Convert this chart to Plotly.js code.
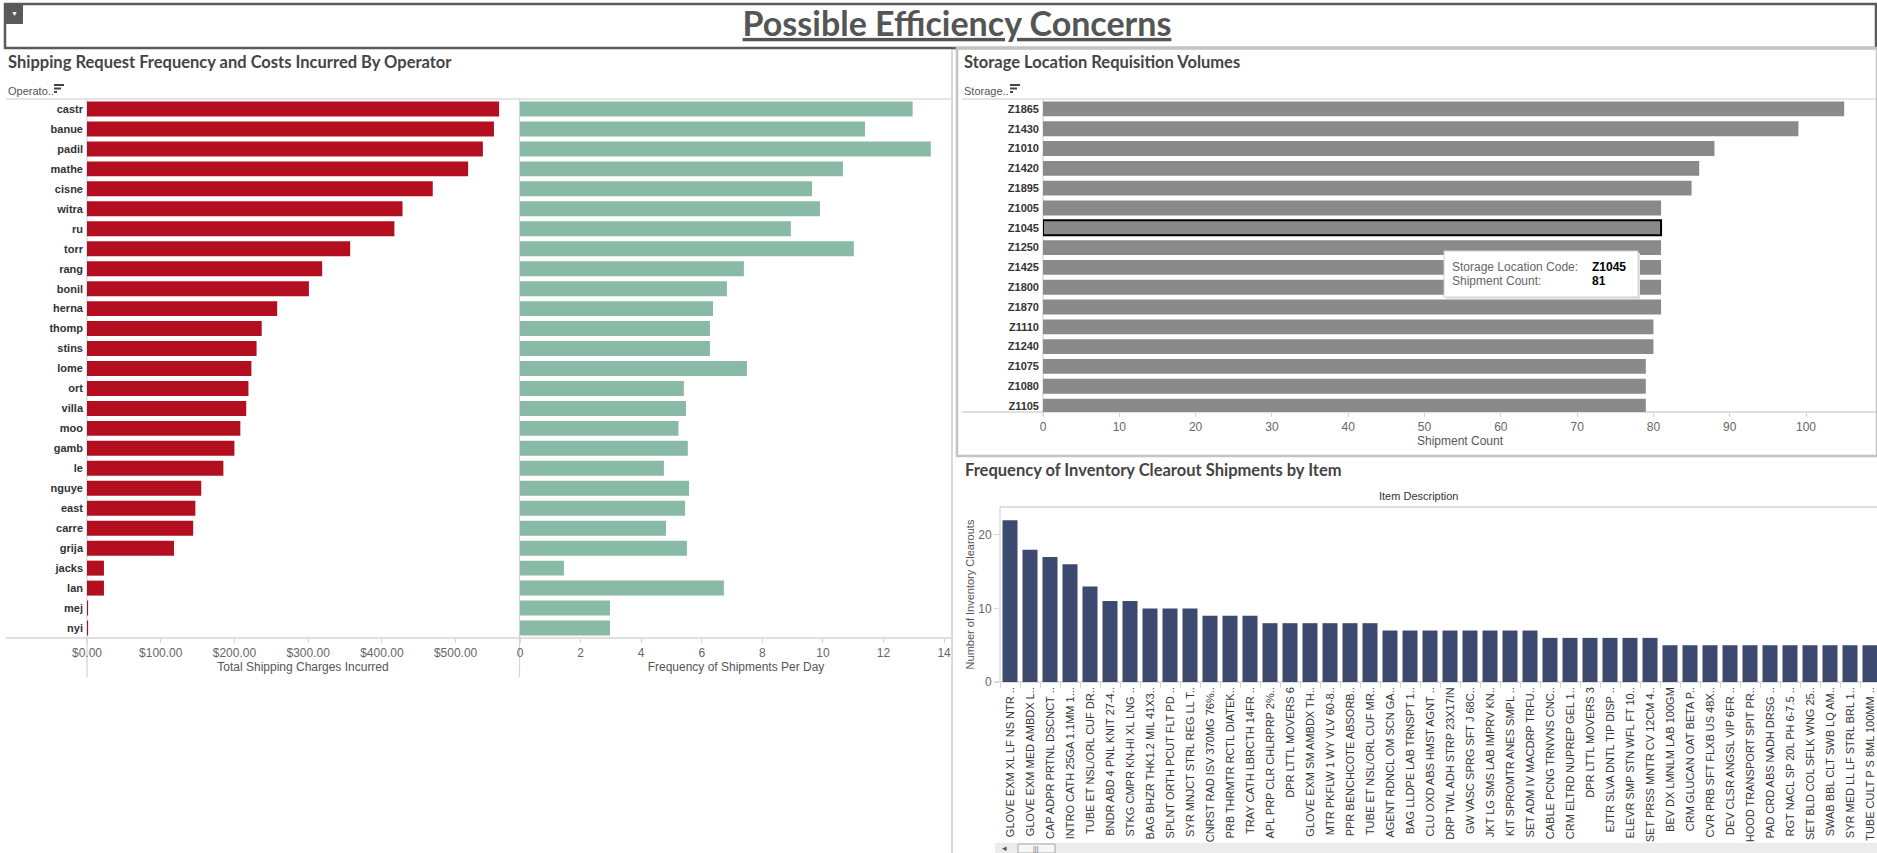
<!DOCTYPE html>
<html>
<head>
<meta charset="utf-8">
<script src="https://cdn.plot.ly/plotly-3.0.1.min.js"></script>
<style>
html, body {margin:0; padding:0; background:#fff;}
#dash {width:1877px; height:853px;}
</style>
</head>
<body>
<div id="dash"></div>
<script>
// Dashboard values.
var operators = ['castr','banue','padil','mathe','cisne','witra','ru','torr','rang','bonil','herna','thomp','stins',
'lome','ort','villa','moo','gamb','le','nguye','east','carre','grija','jacks','lan','mej','nyi'];
var shipping_charges = [559,552,537,517,469,428,417,357,319,301,258,237,230,223,219,216,208,200,185,155,147,144,118,23,23,1.5,1.5];
var shipments_per_day = [12.96,11.39,13.56,10.66,9.64,9.9,8.94,11.02,7.39,6.83,6.37,6.27,6.27,7.49,5.41,5.48,5.23,5.54,
4.75,5.58,5.45,4.82,5.51,1.45,6.73,2.97,2.97];

var storage_codes = ['Z1865','Z1430','Z1010','Z1420','Z1895','Z1005','Z1045','Z1250','Z1425','Z1800','Z1870','Z1110',
'Z1240','Z1075','Z1080','Z1105'];
var shipment_counts = [105,99,88,86,85,81,81,81,81,81,81,80,80,79,79,79];
var selected_code = 'Z1045';

var items = ['GLOVE EXM XL LF NS NTR ..','GLOVE EXM MED AMBDX L..','CAP ADPR PRTNL DSCNCT ..','INTRO CATH 25GA 1.1MM 1...',
'TUBE ET NSL/ORL CUF DR..','BNDR ABD 4 PNL KNIT 27-4..','STKG CMPR KN-HI XL LNG ..','BAG BHZR THK1.2 MIL 41X3..',
'SPLNT ORTH PCUT FLT PD ..','SYR MNJCT STRL REG LL T..','CNRST RAD ISV 370MG 76%..','PRB THRMTR RCTL DIATEK..',
'TRAY CATH LBRCTH 14FR ..','APL PRP CLR CHLRPRP 2%..','DPR LTTL MOVERS 6','GLOVE EXM SM AMBDX TH..',
'MTR PKFLW 1 WY VLV 60-8..','PPR BENCHCOTE ABSORB..','TUBE ET NSL/ORL CUF MR..','AGENT RDNCL OM SCN GA..',
'BAG LLDPE LAB TRNSPT 1..','CLU OXD ABS HMST AGNT ..','DRP TWL ADH STRP 23X17IN','GW VASC SPRG SFT J 68C..',
'JKT LG SMS LAB IMPRV KN..','KIT SPROMTR ANES SMPL ..','SET ADM IV MACDRP TRFU..','CABLE PCNG TRNVNS CNC..',
'CRM ELTRD NUPREP GEL 1..','DPR LTTL MOVERS 3','EJTR SLVA DNTL TIP DISP ..','ELEVR SMP STN WFL FT 10..',
'SET PRSS MNTR CV 12CM 4..','BEV DX LMNLM LAB 100GM','CRM GLUCAN OAT BETA P..','CVR PRB SFT FLXB US 48X..',
'DEV CLSR ANGSL VIP 6FR ..','HOOD TRANSPORT SPIT PR..','PAD CRD ABS NADH DRSG ..','RGT NACL SP 20L PH 6-7.5 ..',
'SET BLD COL SFLK WNG 25..','SWAB BBL CLT SWB LQ AM..','SYR MED LL LF STRL BRL 1..','TUBE CULT P S 8ML 100MM ..'];
var clearouts = [22,18,17,16,13,11,11,10,10,10,9,9,9,8,8,8,8,8,8,7,7,7,7,7,7,7,7,6,6,6,6,6,6,5,5,5,5,5,5,5,5,5,5,5];

var money_ticks = [0,100,200,300,400,500];

// Page size and pixel -> paper helpers.
var W = 1877, H = 853;
function fx(px){return px/W;}
function fy(py){return 1 - py/H;}

var TITLE_FONT = 'Lato, "Open Sans", sans-serif';
var BODY_FONT = '"Liberation Sans", Arial, sans-serif';

var traces = [
{type:'bar', orientation:'h', y:operators, x:shipping_charges, xaxis:'x', yaxis:'y',
 marker:{color:'#b30f20'}},
{type:'bar', orientation:'h', y:operators, x:shipments_per_day, xaxis:'x2', yaxis:'y2',
 marker:{color:'#88baa6'}},
{type:'bar', orientation:'h', y:storage_codes, x:shipment_counts, xaxis:'x3', yaxis:'y3',
 marker:{color:'#8a8a8a',
  line:{color:'#000', width:storage_codes.map(function(c){return c == selected_code ? 2 : 0;})}}},
{type:'bar', x:items, y:clearouts, xaxis:'x4', yaxis:'y4',
 marker:{color:'#3d4a70'}}
];

function value_axis(domain, range, extra){
var ax = {
 domain:domain, range:range, showgrid:false, zeroline:false,
 showline:false, ticks:'outside', ticklen:4, tickcolor:'#d4d4d4',
 tickfont:{family:BODY_FONT, size:12, color:'#666'},
 title:{font:{family:BODY_FONT, size:12, color:'#555'}, standoff:2},
 fixedrange:true
};
for (var k in extra){ax[k] = extra[k];}
return ax;
}

function cat_axis(domain, cats, range, extra){
var ax = {
 domain:domain, type:'category', categoryorder:'array', categoryarray:cats,
 range:range, showgrid:false, zeroline:false, showline:false, ticks:'',
 tickfont:{family:BODY_FONT, size:11, color:'#333', weight:'bold'},
 ticklabelstandoff:3, fixedrange:true
};
for (var k in extra){ax[k] = extra[k];}
return ax;
}

var layout = {
width:W, height:H,
margin:{l:0, r:0, t:0, b:0},
paper_bgcolor:'#fff', plot_bgcolor:'rgba(0,0,0,0)',
showlegend:false, hovermode:false, bargap:0.25,
font:{family:BODY_FONT, size:12, color:'#555'},
title:{
 text:'Possible Efficiency Concerns',
 font:{family:TITLE_FONT, size:34, color:'#555', weight:'bold', lineposition:'under'},
 x:fx(957), xanchor:'center', y:fy(24), yanchor:'middle'
},
// Operator charts.
xaxis:value_axis([fx(87), fx(519)], [0, 586], {anchor:'y', tickvals:money_ticks, tickformat:'$,.2f',
 title:{text:'Total Shipping Charges Incurred', font:{family:BODY_FONT, size:12, color:'#555'}, standoff:2}}),
yaxis:cat_axis([fy(638), fy(99)], operators, [26.5, -0.5], {anchor:'x'}),
xaxis2:value_axis([fx(520), fx(952)], [0, 14.26], {anchor:'y2', dtick:2,
 title:{text:'Frequency of Shipments Per Day', font:{family:BODY_FONT, size:12, color:'#555'}, standoff:2}}),
yaxis2:cat_axis([fy(638), fy(99)], operators, [26.5, -0.5], {anchor:'x2', showticklabels:false}),
// Storage chart: the list is scrolled, so the last row is cut by the axis.
xaxis3:value_axis([fx(1043), 1], [0, 109.3], {anchor:'y3', dtick:10,
 title:{text:'Shipment Count', font:{family:BODY_FONT, size:12, color:'#555'}, standoff:2}}),
yaxis3:cat_axis([fy(412), fy(99)], storage_codes, [15.3, -0.5], {anchor:'x3'}),
// Clearout chart.
xaxis4:cat_axis([fx(1000), 1], items, [-0.5, 43.35], {anchor:'y4', tickangle:-90,
 ticks:'outside', tickson:'boundaries', ticklen:5, tickcolor:'#d4d4d4',
 tickfont:{family:BODY_FONT, size:11, color:'#333'}, ticklabelstandoff:2}),
yaxis4:value_axis([fy(682), fy(507)], [0, 23.8], {anchor:'x4', dtick:10, ticklen:5,
 title:{text:'Number of Inventory Clearouts', font:{family:BODY_FONT, size:11, color:'#555'}, standoff:1}}),
shapes:[],
annotations:[]
};

function line(x0, y0, x1, y1, color, width){
layout.shapes.push({type:'line', xref:'paper', yref:'paper', x0:fx(x0), y0:fy(y0), x1:fx(x1), y1:fy(y1),
 line:{color:color, width:width}, layer:'below'});
}
function box(x0, y0, x1, y1, fill, color, width){
layout.shapes.push({type:'rect', xref:'paper', yref:'paper', x0:fx(x0), y0:fy(y0), x1:fx(x1), y1:fy(y1),
 fillcolor:fill, line:{color:color, width:width}, layer:'above'});
}
function label(x, y, text, opts){
var a = {xref:'paper', yref:'paper', x:fx(x), y:fy(y), text:text, showarrow:false,
 xanchor:'left', yanchor:'middle', font:{family:BODY_FONT, size:11, color:'#555'}};
for (var k in opts){a[k] = opts[k];}
layout.annotations.push(a);
}
function sort_icon(x, y){
line(x, y, x+10, y, '#444', 2);
line(x, y+3.5, x+7, y+3.5, '#444', 2);
line(x, y+7, x+3, y+7, '#444', 2);
}

// Title bar.
box(5, 48, 1876, 4, 'rgba(0,0,0,0)', '#5a5a5a', 2.5);
box(5, 24, 23, 5, '#5a5a5a', '#5a5a5a', 0);
label(14, 13, '\u25BC', {xanchor:'center', font:{family:BODY_FONT, size:7, color:'#fff'}});

// Left panel frame.
line(952, 48, 952, 853, '#cfcfcf', 1.5);
line(6, 99, 952, 99, '#dcdcdc', 1.5);
line(6, 638, 952, 638, '#d4d4d4', 1.5);
line(87, 99, 87, 677, '#d4d4d4', 1.2);
line(519.5, 99, 519.5, 677, '#d4d4d4', 1.2);
label(6, 62, '<b>Shipping Request Frequency and Costs Incurred By Operator</b>',
 {font:{family:TITLE_FONT, size:16.5, color:'#444'}});
label(6, 91, 'Operato..');
sort_icon(54, 85);

// Storage panel frame.
box(957, 456, 1877, 48, 'rgba(0,0,0,0)', '#c4c4c4', 2.5);
line(962, 99, 1877, 99, '#dcdcdc', 1.5);
line(962, 412, 1877, 412, '#d4d4d4', 1.5);
line(1043, 99, 1043, 416, '#d4d4d4', 1.2);
label(962, 62, '<b>Storage Location Requisition Volumes</b>', {font:{family:TITLE_FONT, size:16.5, color:'#444'}});
label(962, 91, 'Storage..');
sort_icon(1010, 85);

// Tooltip on the selected storage bar.
box(1446, 253, 1640, 299, '#e2e2e2', '#e2e2e2', 0);
box(1444, 251, 1638, 297, '#fff', '#cfcfcf', 1);
label(1450, 267, 'Storage Location Code:', {font:{family:BODY_FONT, size:12, color:'#666'}});
label(1590, 267, '<b>' + selected_code + '</b>', {font:{family:BODY_FONT, size:12, color:'#000'}});
label(1450, 281, 'Shipment Count:', {font:{family:BODY_FONT, size:12, color:'#666'}});
label(1590, 281, '<b>' + shipment_counts[storage_codes.indexOf(selected_code)] + '</b>',
 {font:{family:BODY_FONT, size:12, color:'#000'}});

// Clearout panel frame.
label(963, 470, '<b>Frequency of Inventory Clearout Shipments by Item</b>', {font:{family:TITLE_FONT, size:16.5, color:'#444'}});
label(1418, 496, 'Item Description', {xanchor:'center', font:{family:BODY_FONT, size:11, color:'#333'}});
line(1000, 507, 1877, 507, '#d4d4d4', 1.5);
line(1000, 507, 1000, 682, '#d4d4d4', 1.2);
line(995, 682, 1877, 682, '#d4d4d4', 1.5);
box(995, 853, 1877, 843, '#ececec', '#ececec', 0);
box(1018, 853, 1055, 844, '#f7f7f7', '#a8a8a8', 1);
label(1036, 849, '|||', {xanchor:'center', font:{family:BODY_FONT, size:7, color:'#666'}});
label(1005, 848, '\u25C2', {xanchor:'center', font:{family:BODY_FONT, size:9, color:'#555'}});

var config = {displayModeBar:false, responsive:false, staticPlot:true};
Plotly.newPlot('dash', traces, layout, config);
</script>
</body>
</html>
